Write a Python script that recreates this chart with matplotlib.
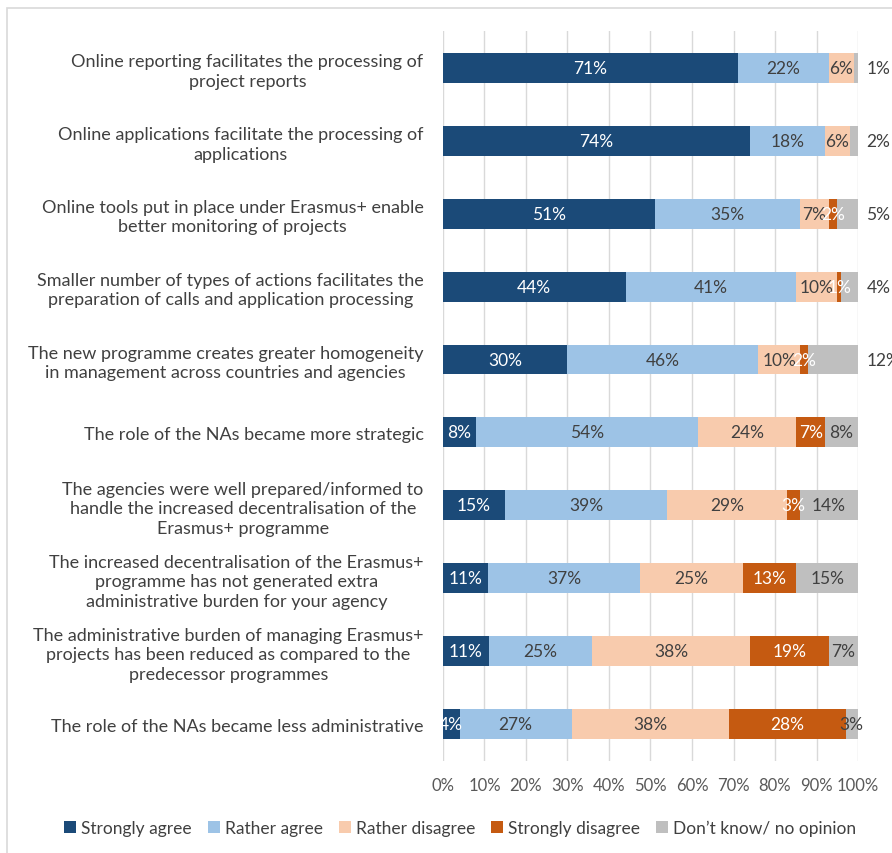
import matplotlib.pyplot as plt
import numpy as np
from matplotlib.patches import Rectangle

plt.rcParams['font.family'] = ['Lato', 'DejaVu Sans']

# statements, top to bottom
categories = [
    "Online reporting facilitates the processing of\nproject reports",
    "Online applications facilitate the processing of\napplications",
    "Online tools put in place under Erasmus+ enable\nbetter monitoring of projects",
    "Smaller number of types of actions facilitates the\npreparation of calls and application processing",
    "The new programme creates greater homogeneity\nin management across countries and agencies",
    "The role of the NAs became more strategic",
    "The agencies were well prepared/informed to\nhandle the increased decentralisation of the\nErasmus+ programme",
    "The increased decentralisation of the Erasmus+\nprogramme has not generated extra\nadministrative burden for your agency",
    "The administrative burden of managing Erasmus+\nprojects has been reduced as compared to the\npredecessor programmes",
    "The role of the NAs became less administrative",
]

series_names = ["Strongly agree", "Rather agree", "Rather disagree",
                "Strongly disagree", "Don\u2019t know/ no opinion"]

strongly_agree = [71, 74, 51, 44, 30, 8, 15, 11, 11, 4]
rather_agree = [22, 18, 35, 41, 46, 54, 39, 37, 25, 27]
rather_disagree = [6, 6, 7, 10, 10, 24, 29, 25, 38, 38]
strongly_disagree = [0, 0, 2, 1, 2, 7, 3, 13, 19, 28]
dont_know = [1, 2, 5, 4, 12, 8, 14, 15, 7, 3]

colors = ["#1b4a78", "#9dc3e6", "#f8cbad", "#c55a11", "#bfbfbf"]
text_colors = ["white", "#404040", "#404040", "white", "#404040"]

data = np.array([strongly_agree, rather_agree, rather_disagree,
                 strongly_disagree, dont_know], dtype=float)
# 100% stacked: normalise each row
widths = data / data.sum(axis=0) * 100

fig = plt.figure(figsize=(8.92, 8.54), dpi=100)
fig.patches.append(Rectangle((0.008, -0.01), 1.1, 1.0, transform=fig.transFigure,
                             fill=False, edgecolor="#d9d9d9", linewidth=1.2))
ax = fig.add_axes([0.4966, 0.1083, 0.4653, 0.8537])

y = np.arange(len(categories))
left = np.zeros(len(categories))
for k in range(5):
    ax.barh(y, widths[k], left=left, height=0.41, color=colors[k],
            label=series_names[k], zorder=3)
    for i in range(len(categories)):
        v = data[k, i]
        if v == 0:
            continue
        if k == 4 and i < 5:
            ax.text(102, y[i], f"{int(v)}%", ha="left", va="center",
                    color="#404040", fontsize=12.5, clip_on=False)
        else:
            ax.text(left[i] + widths[k, i] / 2, y[i], f"{int(v)}%",
                    ha="center", va="center", color=text_colors[k],
                    fontsize=12.5, zorder=4)
    left += widths[k]

ax.set_xlim(0, 100)
ax.set_ylim(len(categories) - 0.5, -0.5)
ax.set_xticks(np.arange(0, 101, 10))
ax.set_xticklabels([f"{t}%" for t in range(0, 101, 10)], fontsize=12, color="#595959")
ax.set_yticks(y)
ax.set_yticklabels(categories, fontsize=13, color="#404040", linespacing=1.25)
for t in ax.get_yticklabels():
    t.set_multialignment("center")
ax.tick_params(axis="both", length=0)
ax.tick_params(axis="y", pad=14)
ax.tick_params(axis="x", pad=12)
ax.grid(axis="x", color="#d9d9d9", linewidth=1, zorder=0)
for s in ax.spines.values():
    s.set_visible(False)

ax.legend(loc="center", bbox_to_anchor=(0.516, 0.029), bbox_transform=fig.transFigure,
          ncol=5, frameon=False, fontsize=12.5, handlelength=0.7, handleheight=0.7,
          handletextpad=0.3, columnspacing=0.9, labelcolor="#404040")

fig.savefig("out.png", dpi=100)
